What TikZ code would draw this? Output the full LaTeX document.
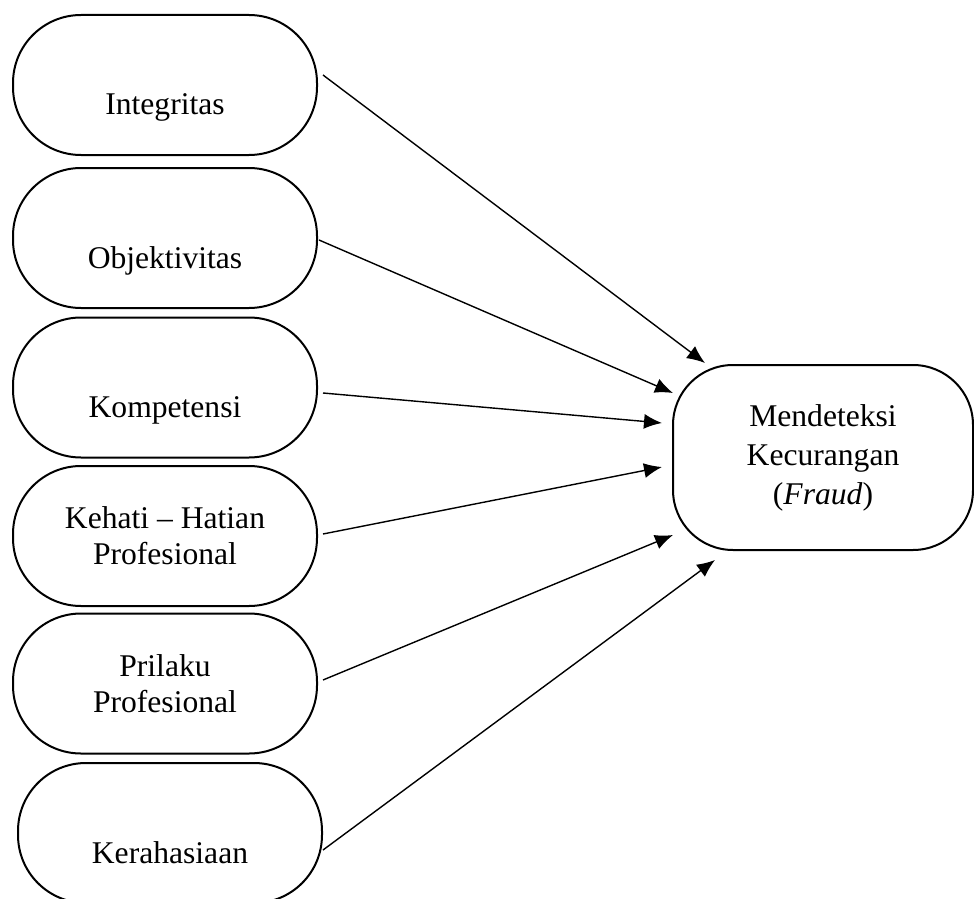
\documentclass[tikz,border=0pt]{standalone}
\usepackage{fontspec}
\setmainfont{Liberation Serif}
\usetikzlibrary{arrows.meta,calc}

\begin{document}
\begin{tikzpicture}[x=0.5pt, y=-0.5pt,
    factor/.style={draw, line width=1pt, rounded corners=34pt, minimum width=152pt, minimum height=70pt, align=center, font=\fontsize{15.8}{18}\selectfont},
    lowtext/.style={text height=30pt, text depth=0pt},
    target/.style={factor, rounded corners=30pt, minimum width=150pt, minimum height=92.5pt, font=\fontsize{15.8}{19.5}\selectfont},
    link/.style={-{Latex[length=9pt,width=7.5pt]}, line width=0.7pt}]
  \useasboundingbox (0,0) rectangle (974,899);
  \clip (0,0) rectangle (974,899);

  % Variabel X
  \node[factor, lowtext] (integ) at (165,85) {Integritas};
  \node[factor, lowtext] (objek) at (165,238) {Objektivitas};
  \node[factor, lowtext] (kompet) at (165,387.5) {Kompetensi};
  \node[factor] (kehati) at (165,536) {Kehati -- Hatian\\Profesional};
  \node[factor] (prilaku) at (165,683.5) {Prilaku\\Profesional};
  \node[factor, lowtext] (rahasia) at (170,833) {Kerahasiaan};

  % Variabel Y
  \node[target] (fraud) at (823,457.5) {Mendeteksi\\Kecurangan\\(\textit{Fraud})};

  % Panah
  \draw[link] ([shift={(5,-10)}]integ.east) -- ($(fraud)+(-118,-94.5)$);
  \draw[link] ([shift={(1,2)}]objek.east) -- ($(fraud)+(-150,-64.5)$);
  \draw[link] ([shift={(5,5.5)}]kompet.east) -- ($(fraud)+(-161,-34.5)$);
  \draw[link] ([shift={(5,-2)}]kehati.east) -- ($(fraud)+(-161,9.5)$);
  \draw[link] ([shift={(5,-3.5)}]prilaku.east) -- ($(fraud)+(-150,77.5)$);
  \draw[link] ([shift={(0,17)}]rahasia.east) -- ($(fraud)+(-108,102.5)$);
\end{tikzpicture}
\end{document}
